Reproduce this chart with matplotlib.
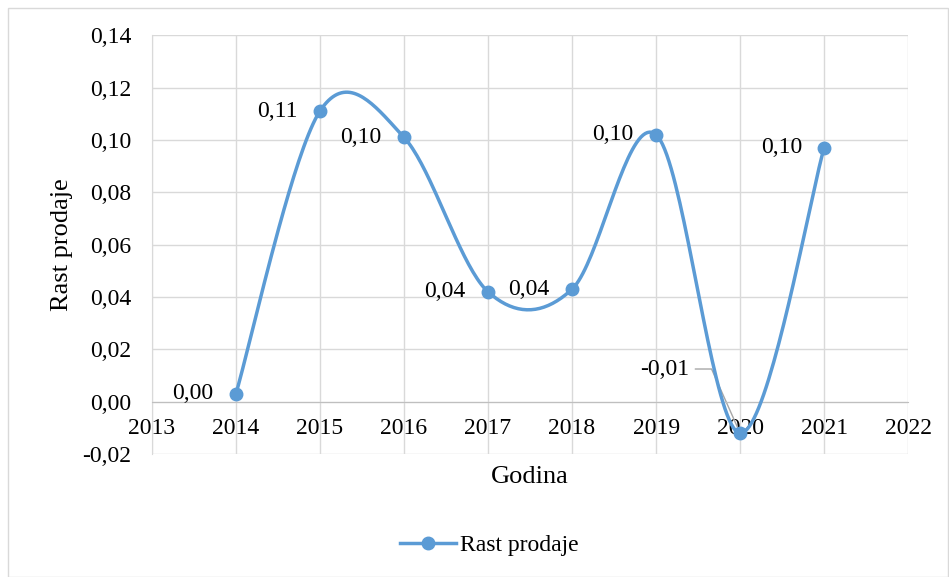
import matplotlib
matplotlib.use("Agg")
import matplotlib.pyplot as plt
from matplotlib.patches import Rectangle
import numpy as np

godine = [2014, 2015, 2016, 2017, 2018, 2019, 2020, 2021]
rast = [0.003, 0.111, 0.101, 0.042, 0.043, 0.102, -0.012, 0.097]
oznake = ["0,00", "0,11", "0,10", "0,04", "0,04", "0,10", "-0,01", "0,10"]
x_ticks = list(range(2013, 2023))
y_ticks = [-0.02, 0.0, 0.02, 0.04, 0.06, 0.08, 0.10, 0.12, 0.14]

plt.rcParams['font.family'] = ['Liberation Serif', 'DejaVu Serif']
boja = '#5B9BD5'
fs = 17

fig = plt.figure(figsize=(9.49, 5.77), dpi=100)
ax = fig.add_axes([0.160, 0.213, 0.797, 0.726])
fig.patches.append(Rectangle((8 / 949, 0), 940 / 949, 1 - 8 / 577, transform=fig.transFigure,
                             fill=False, edgecolor='#d9d9d9', lw=1))

ax.set_xlim(2013, 2022)
ax.set_ylim(-0.02, 0.14)
ax.set_xticks(x_ticks)
ax.set_yticks(y_ticks)
ax.set_yticklabels([("%.2f" % v).replace('.', ',') for v in y_ticks])
ax.set_xticklabels([str(v) for v in x_ticks])
ax.grid(True, color='#d9d9d9', lw=1)
ax.set_axisbelow(True)
for s in ['top', 'right']:
    ax.spines[s].set_visible(False)
ax.spines['left'].set_color('#d9d9d9')
ax.spines['bottom'].set_position(('data', 0))
ax.spines['bottom'].set_color('#bfbfbf')
ax.tick_params(length=0, labelsize=fs, colors='black')
ax.tick_params(axis='x', pad=12)
ax.tick_params(axis='y', pad=15)
ax.set_xlabel("Godina", fontsize=19)
ax.xaxis.set_label_coords(0.5, -0.028)
ax.set_ylabel("Rast prodaje", fontsize=19)
ax.yaxis.set_label_coords(-0.104, 0.5)

# glatka linija kao u Excelu (Bezier u koordinatama prikaza)
fig.canvas.draw()
pts = ax.transData.transform(np.column_stack([godine, rast]))
n = len(pts)
krivulja = []
t = np.linspace(0, 1, 40)
for i in range(n - 1):
    p0 = pts[max(i - 1, 0)]
    p1 = pts[i]
    p2 = pts[i + 1]
    p3 = pts[min(i + 2, n - 1)]
    c1 = p1 + (p2 - p0) / 6
    c2 = p2 - (p3 - p1) / 6
    seg = ((1 - t) ** 3)[:, None] * p1 + (3 * (1 - t) ** 2 * t)[:, None] * c1 \
        + (3 * (1 - t) * t ** 2)[:, None] * c2 + (t ** 3)[:, None] * p2
    krivulja.append(seg)
krivulja = ax.transData.inverted().transform(np.vstack(krivulja))

ax.plot(krivulja[:, 0], krivulja[:, 1], color=boja, lw=2.5, zorder=3, clip_on=False)
ax.plot(godine, rast, 'o', color=boja, ms=9, zorder=4, clip_on=False)
ax.plot([], [], '-o', color=boja, lw=2.5, ms=9, label="Rast prodaje")

for x, y, s in zip(godine, rast, oznake):
    if s == "-0,01":
        ax.annotate(s, xy=(x, y), xytext=(x - 0.6, 0.0125), fontsize=fs,
                    ha='right', va='center', zorder=2,
                    arrowprops=dict(arrowstyle='-', color='#a6a6a6', lw=1, relpos=(1, 0.5),
                                    shrinkA=2, shrinkB=0,
                                    connectionstyle='angle,angleA=0,angleB=114,rad=0'))
    else:
        ax.annotate(s, xy=(x, y), xytext=(-16, 0), textcoords='offset points',
                    fontsize=fs, ha='right', va='center')

ax.legend(loc='center', bbox_to_anchor=(0.446, -0.217), frameon=False, fontsize=fs,
          handlelength=2.4, handletextpad=0.15)

fig.savefig("out.png", dpi=100)
